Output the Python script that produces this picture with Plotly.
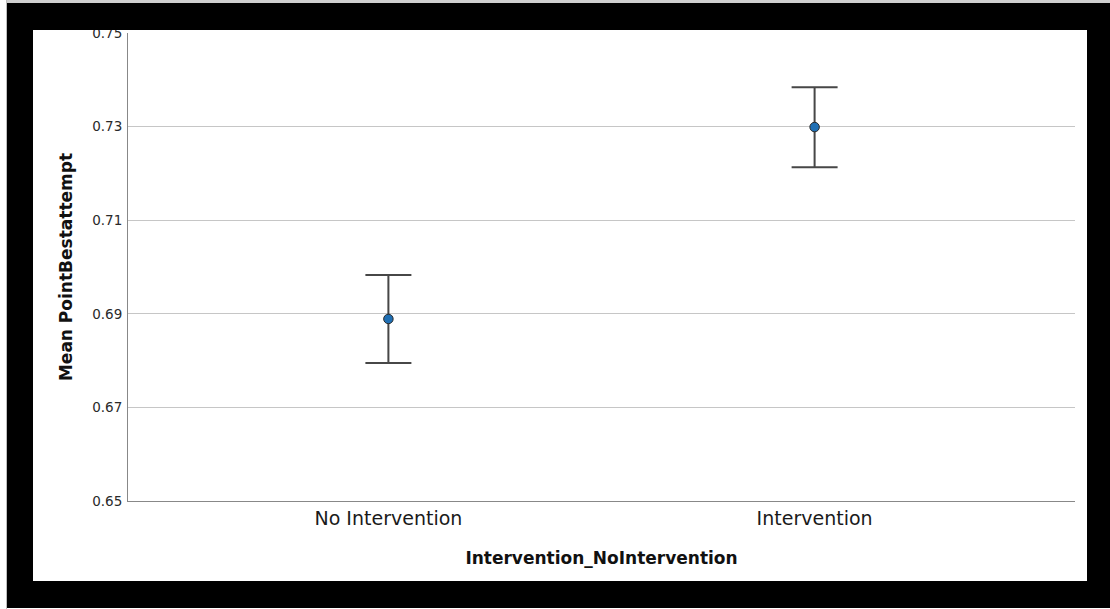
import plotly.graph_objects as go

categories = ["No Intervention", "Intervention"]
means = [0.6889, 0.7299]
upper = [0.6983, 0.7384]
lower = [0.6795, 0.7213]
y_ticks = [0.65, 0.67, 0.69, 0.71, 0.73, 0.75]
y_tick_labels = ["0.65", "0.67", "0.69", "0.71", "0.73", "0.75"]

W, H = 1110, 609
L, R, T, B = 128, 35, 33, 108
PW, PH = W - L - R, H - T - B


def px(x):
    return (x - L) / PW


def py(y):
    return (H - B - y) / PH


err_plus = [u - m for u, m in zip(upper, means)]
err_minus = [m - l for m, l in zip(means, lower)]

fig = go.Figure()
fig.add_trace(go.Scatter(
    x=categories, y=means, mode="markers",
    marker=dict(size=9.5, color="#1f6fb4", line=dict(color="#2a2a2a", width=1)),
    error_y=dict(type="data", array=err_plus, arrayminus=err_minus,
                 color="#474747", thickness=2, width=23),
    showlegend=False, hoverinfo="skip",
))

frame_color = "#000000"
shapes = [
    dict(type="rect", xref="paper", yref="paper", x0=px(6), x1=px(1110), y0=py(0), y1=py(3),
         fillcolor="#cfcfcf", line=dict(width=0), layer="above"),
    dict(type="rect", xref="paper", yref="paper", x0=px(7), x1=px(1110), y0=py(3), y1=py(30),
         fillcolor=frame_color, line=dict(width=0), layer="above"),
    dict(type="rect", xref="paper", yref="paper", x0=px(7), x1=px(1110), y0=py(581), y1=py(608),
         fillcolor=frame_color, line=dict(width=0), layer="above"),
    dict(type="rect", xref="paper", yref="paper", x0=px(7), x1=px(33), y0=py(3), y1=py(608),
         fillcolor=frame_color, line=dict(width=0), layer="above"),
    dict(type="rect", xref="paper", yref="paper", x0=px(1087), x1=px(1110), y0=py(3), y1=py(608),
         fillcolor=frame_color, line=dict(width=0), layer="above"),
    dict(type="rect", xref="paper", yref="paper", x0=px(6), x1=px(7), y0=py(0), y1=py(609),
         fillcolor="#bdbdbd", line=dict(width=0), layer="above"),
]

fig.update_layout(
    width=W, height=H,
    margin=dict(l=L, r=R, t=T, b=B, autoexpand=False),
    paper_bgcolor="white", plot_bgcolor="white",
    font=dict(family="DejaVu Sans", color="#222222"),
    shapes=shapes,
    xaxis=dict(
        type="category", range=[-0.611, 1.611],
        showgrid=False, showline=True, linecolor="#888888", linewidth=1,
        ticks="", tickfont=dict(size=19, color="#1a1a1a"),
        title=dict(text="<b>Intervention_NoIntervention</b>",
                   font=dict(size=17, color="#111111"), standoff=24),
        zeroline=False, automargin=False,
    ),
    yaxis=dict(
        range=[0.65, 0.75], tickvals=y_ticks, ticktext=y_tick_labels,
        showgrid=True, gridcolor="#c6c6c6", gridwidth=1,
        showline=True, linecolor="#888888", linewidth=1,
        ticks="", tickfont=dict(size=13.5, color="#2a2a2a"), ticklabelstandoff=2,
        title=dict(text="<b>Mean PointBestattempt</b>",
                   font=dict(size=17, color="#111111"), standoff=15),
        zeroline=False, automargin=False,
    ),
)

fig.write_html("out.html", config={"displayModeBar": False},
               post_script="document.body.style.margin='0px';document.body.style.overflow='hidden';")
